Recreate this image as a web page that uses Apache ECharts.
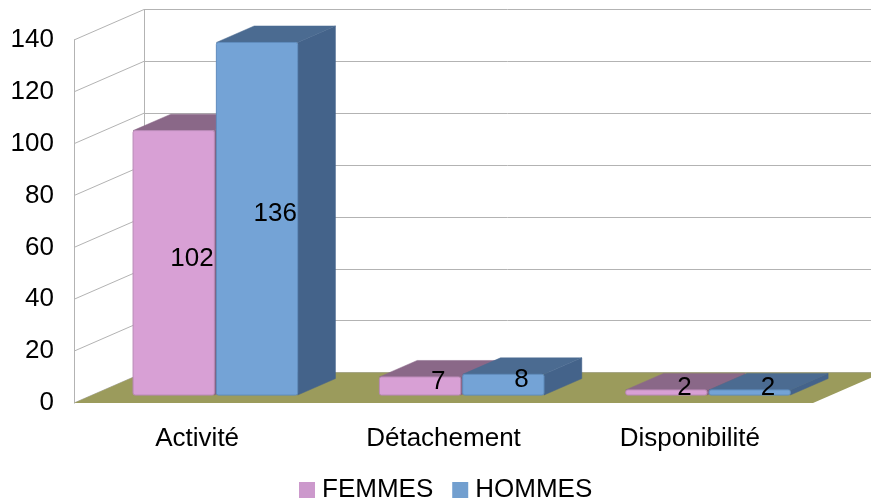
<!DOCTYPE html>
<html><head><meta charset="utf-8">
<script src="https://cdn.jsdelivr.net/npm/echarts@6/dist/echarts.min.js"></script>
<style>html,body{margin:0;padding:0;background:#fff}#c{width:871px;height:499px}</style>
</head><body><div id="c"></div>
<script>
const categories = ['Activité', 'Détachement', 'Disponibilité'];
const femmes = [102, 7, 2];
const hommes = [136, 8, 2];
const seriesNames = ['FEMMES', 'HOMMES'];
const yMin = 0, yMax = 140, yInterval = 20;
const wallTicks = [0, 20, 40, 60, 80, 100, 120, 140];

const DX = 70, DY = 30.5;       // depth offset of the back wall
const T0 = 0.26, T1 = 0.80;      // bar front / back depth fraction
const TL = 0.52;                 // label depth fraction
const FONT = 'Liberation Sans';

const faces = {
  FEMMES: {front: '#d8a0d5', top: '#8a6888', side: '#85607f', stroke: '#b888b5'},
  HOMMES: {front: '#74a3d6', top: '#4b6b91', side: '#44638a', stroke: '#5f8cbd'}
};

function barGeom(api, sign) {
  const idx = api.value(0), val = api.value(1);
  const c = api.coord([idx, 0]);
  const t = api.coord([idx, val]);
  const bw = api.size([1, 0])[0] * 0.33;
  const xl = sign < 0 ? c[0] - 1 - bw : c[0] + 1;
  return {val: val, xl: xl, xr: xl + bw, bw: bw, yb: c[1], yt: t[1]};
}

function barRender(name, sign) {
  return function (params, api) {
    const g = barGeom(api, sign);
    const xl = g.xl, xr = g.xr, yb = g.yb, yt = g.yt;
    const dx0 = DX * T0, dy0 = -DY * T0, dx1 = DX * T1, dy1 = -DY * T1;
    const f = faces[name];
    return {
      type: 'group',
      children: [
        {type: 'polygon', shape: {points: [[xr + dx0, yb + dy0], [xr + dx0, yt + dy0], [xr + dx1, yt + dy1], [xr + dx1, yb + dy1]]},
         style: {fill: f.side, stroke: f.side, lineWidth: 0.5}},
        {type: 'polygon', shape: {points: [[xl + dx0, yt + dy0], [xr + dx0, yt + dy0], [xr + dx1, yt + dy1], [xl + dx1, yt + dy1]]},
         style: {fill: f.top, stroke: f.top, lineWidth: 0.5}},
        {type: 'rect', shape: {x: xl + dx0, y: yt + dy0, width: g.bw, height: yb - yt, r: 2},
         style: {fill: f.front, stroke: f.stroke, lineWidth: 1}}
      ]
    };
  };
}

function labelRender(sign) {
  return function (params, api) {
    const g = barGeom(api, sign);
    return {
      type: 'text',
      style: {text: String(g.val), x: g.xl + g.bw / 2 + DX * TL, y: (g.yb + g.yt) / 2 - DY * TL + 3.5,
              align: 'center', verticalAlign: 'middle',
              fontSize: 26, fontFamily: FONT, fill: '#000'}
    };
  };
}

const chart = echarts.init(document.getElementById('c'), null, {renderer: 'canvas'});
chart.setOption({
  backgroundColor: '#fff',
  animation: false,
  textStyle: {fontFamily: FONT},
  legend: {
    data: seriesNames, left: 299, top: 477, padding: 0,
    itemWidth: 16, itemHeight: 16, itemGap: 19, icon: 'rect',
    textStyle: {fontSize: 26, color: '#000', fontFamily: FONT, padding: [0, 0, 0, 2]}
  },
  grid: [
    {left: 74, top: 40, width: 739, height: 363},
    {left: 74 + DX, top: 40 - DY, width: 739, height: 363}
  ],
  xAxis: [
    {type: 'category', gridIndex: 0, data: categories, axisLine: {show: false}, axisTick: {show: false},
     axisLabel: {fontSize: 26, color: '#000', margin: 23, fontFamily: FONT}},
    {type: 'category', gridIndex: 1, data: categories, show: false}
  ],
  yAxis: [
    {type: 'value', gridIndex: 0, min: yMin, max: yMax, interval: yInterval,
     axisLine: {show: true, lineStyle: {color: '#b3b3b3'}}, axisTick: {show: false}, splitLine: {show: false},
     axisLabel: {fontSize: 26, color: '#000', margin: 20, fontFamily: FONT}},
    {type: 'value', gridIndex: 1, min: yMin, max: yMax, interval: yInterval,
     axisLine: {show: true, lineStyle: {color: '#b3b3b3'}}, axisTick: {show: false}, axisLabel: {show: false},
     splitLine: {show: true, lineStyle: {color: '#b3b3b3', width: 1}}}
  ],
  series: [
    {type: 'custom', name: 'walls', xAxisIndex: 0, yAxisIndex: 0, z: 1, silent: true,
     data: wallTicks.map(v => [0, v]),
     renderItem: function (params, api) {
       const cs = params.coordSys;
       const y = api.coord([0, api.value(1)])[1];
       return {type: 'line', shape: {x1: cs.x, y1: y, x2: cs.x + DX, y2: y - DY},
               style: {stroke: '#b3b3b3', lineWidth: 1}};
     }},
    {type: 'custom', name: 'floor', xAxisIndex: 0, yAxisIndex: 0, z: 2, silent: true,
     data: [[0, 0]],
     renderItem: function (params, api) {
       const cs = params.coordSys;
       const yb = api.coord([0, api.value(1)])[1];
       const x0 = cs.x, x1 = cs.x + cs.width;
       return {type: 'polygon', shape: {points: [[x0, yb], [x1, yb], [x1 + DX, yb - DY], [x0 + DX, yb - DY]]},
               style: {fill: '#9b9b5c'}};
     }},
    {type: 'custom', name: 'FEMMES', xAxisIndex: 0, yAxisIndex: 0, z: 3,
     itemStyle: {color: '#cc99cc'},
     data: femmes.map((v, i) => [i, v]), renderItem: barRender('FEMMES', -1)},
    {type: 'custom', name: 'HOMMES', xAxisIndex: 0, yAxisIndex: 0, z: 3,
     itemStyle: {color: '#729fcf'},
     data: hommes.map((v, i) => [i, v]), renderItem: barRender('HOMMES', 1)},
    {type: 'custom', name: 'lblF', xAxisIndex: 0, yAxisIndex: 0, z: 5, silent: true,
     data: femmes.map((v, i) => [i, v]), renderItem: labelRender(-1)},
    {type: 'custom', name: 'lblH', xAxisIndex: 0, yAxisIndex: 0, z: 5, silent: true,
     data: hommes.map((v, i) => [i, v]), renderItem: labelRender(1)}
  ]
});
</script></body></html>
